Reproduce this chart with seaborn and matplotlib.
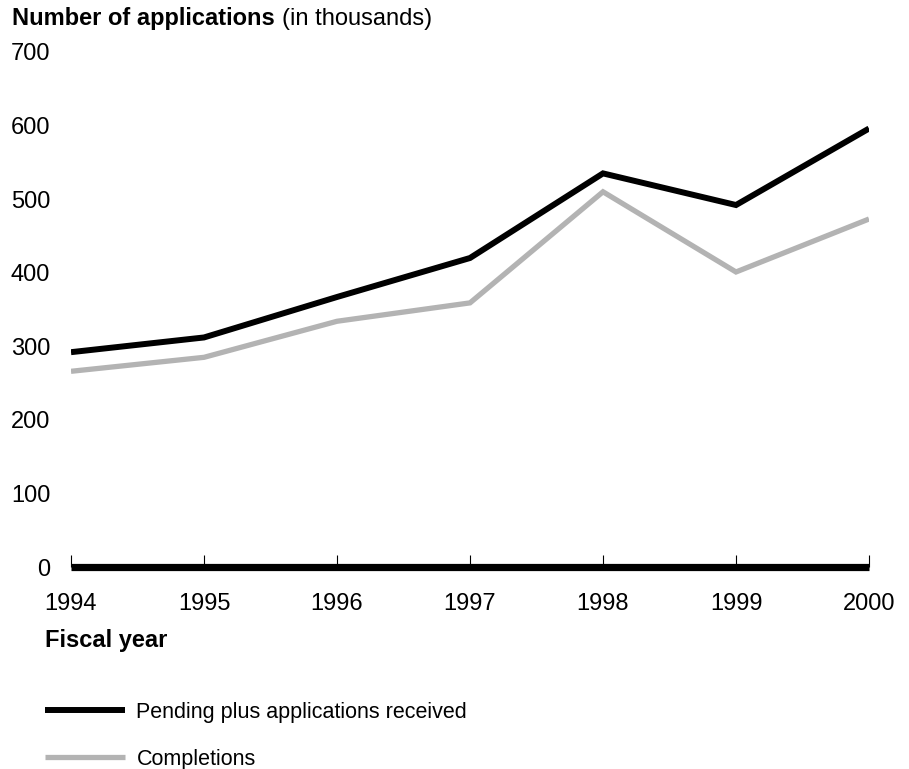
import pandas as pd
import matplotlib
matplotlib.use("Agg")
import matplotlib.pyplot as plt
import seaborn as sns

# Data (thousands of applications)
years = [1994, 1995, 1996, 1997, 1998, 1999, 2000]
pending_received = [292, 312, 367, 420, 535, 492, 596]
completions = [266, 285, 334, 359, 510, 401, 473]

y_ticks = [0, 100, 200, 300, 400, 500, 600, 700]
labels = ["Pending plus applications received", "Completions"]
colors = ["#000000", "#b3b3b3"]

df = pd.DataFrame({"Year": years, "Pending": pending_received, "Completions": completions})

sns.set_style("white")
plt.rcParams["font.family"] = ["Liberation Sans", "DejaVu Sans"]
plt.rcParams["text.color"] = "black"
plt.rcParams["xtick.color"] = "black"
plt.rcParams["ytick.color"] = "black"

fig = plt.figure(figsize=(9.09, 7.69), dpi=100)
ax = fig.add_axes([71 / 909, 1 - 567 / 769, (869 - 71) / 909, (567 - 52) / 769])

sns.lineplot(data=df, x="Year", y="Pending", ax=ax, color=colors[0], linewidth=4.3,
             label=labels[0], solid_joinstyle="miter", solid_capstyle="butt")
sns.lineplot(data=df, x="Year", y="Completions", ax=ax, color=colors[1], linewidth=3.8,
             label=labels[1], solid_joinstyle="miter", solid_capstyle="butt")

ax.set_xlim(years[0], years[-1])
ax.set_ylim(0, 700)
ax.set_xticks(years)
ax.set_xticklabels([str(y) for y in years])
ax.set_yticks(y_ticks)
ax.set_yticklabels([str(v) for v in y_ticks])
ax.set_xlabel("")
ax.set_ylabel("")

for side in ["left", "top", "right"]:
    ax.spines[side].set_visible(False)
ax.spines["bottom"].set_linewidth(5.2)
ax.spines["bottom"].set_color("black")
ax.spines["bottom"].set_capstyle("butt")

ax.tick_params(axis="x", bottom=True, direction="in", length=8.5, width=0.8, color="black",
               labelsize=17, pad=19, labelcolor="black")
ax.tick_params(axis="y", left=True, length=0, labelsize=17, pad=15, labelcolor="black")
ax.grid(False)

# Legend below the axes, no frame
handles, _ = ax.get_legend_handles_labels()
leg = ax.legend(handles, labels, loc="upper left", bbox_to_anchor=(45 / 909, 1 - 702 / 769),
                bbox_transform=fig.transFigure, frameon=False, fontsize=15.5,
                handlelength=3.7, handletextpad=0.55, labelspacing=1.2,
                borderpad=0, borderaxespad=0)
for txt in leg.get_texts():
    txt.set_color("black")
for ln in leg.get_lines():
    ln.set_solid_capstyle("butt")

# Axis titles
fig.text(45 / 909, 1 - 647 / 769, "Fiscal year", fontsize=17, fontweight="bold",
         ha="left", va="baseline", color="black")
t1 = fig.text(12 / 909, 1 - 25 / 769, "Number of applications", fontsize=17,
              fontweight="bold", ha="left", va="baseline", color="black")
fig.canvas.draw()
bb = t1.get_window_extent(renderer=fig.canvas.get_renderer())
fig.text((bb.x1 + 7) / 909, 1 - 25 / 769, "(in thousands)", fontsize=17,
         ha="left", va="baseline", color="black")

fig.savefig("out.png", dpi=100, facecolor="white")
